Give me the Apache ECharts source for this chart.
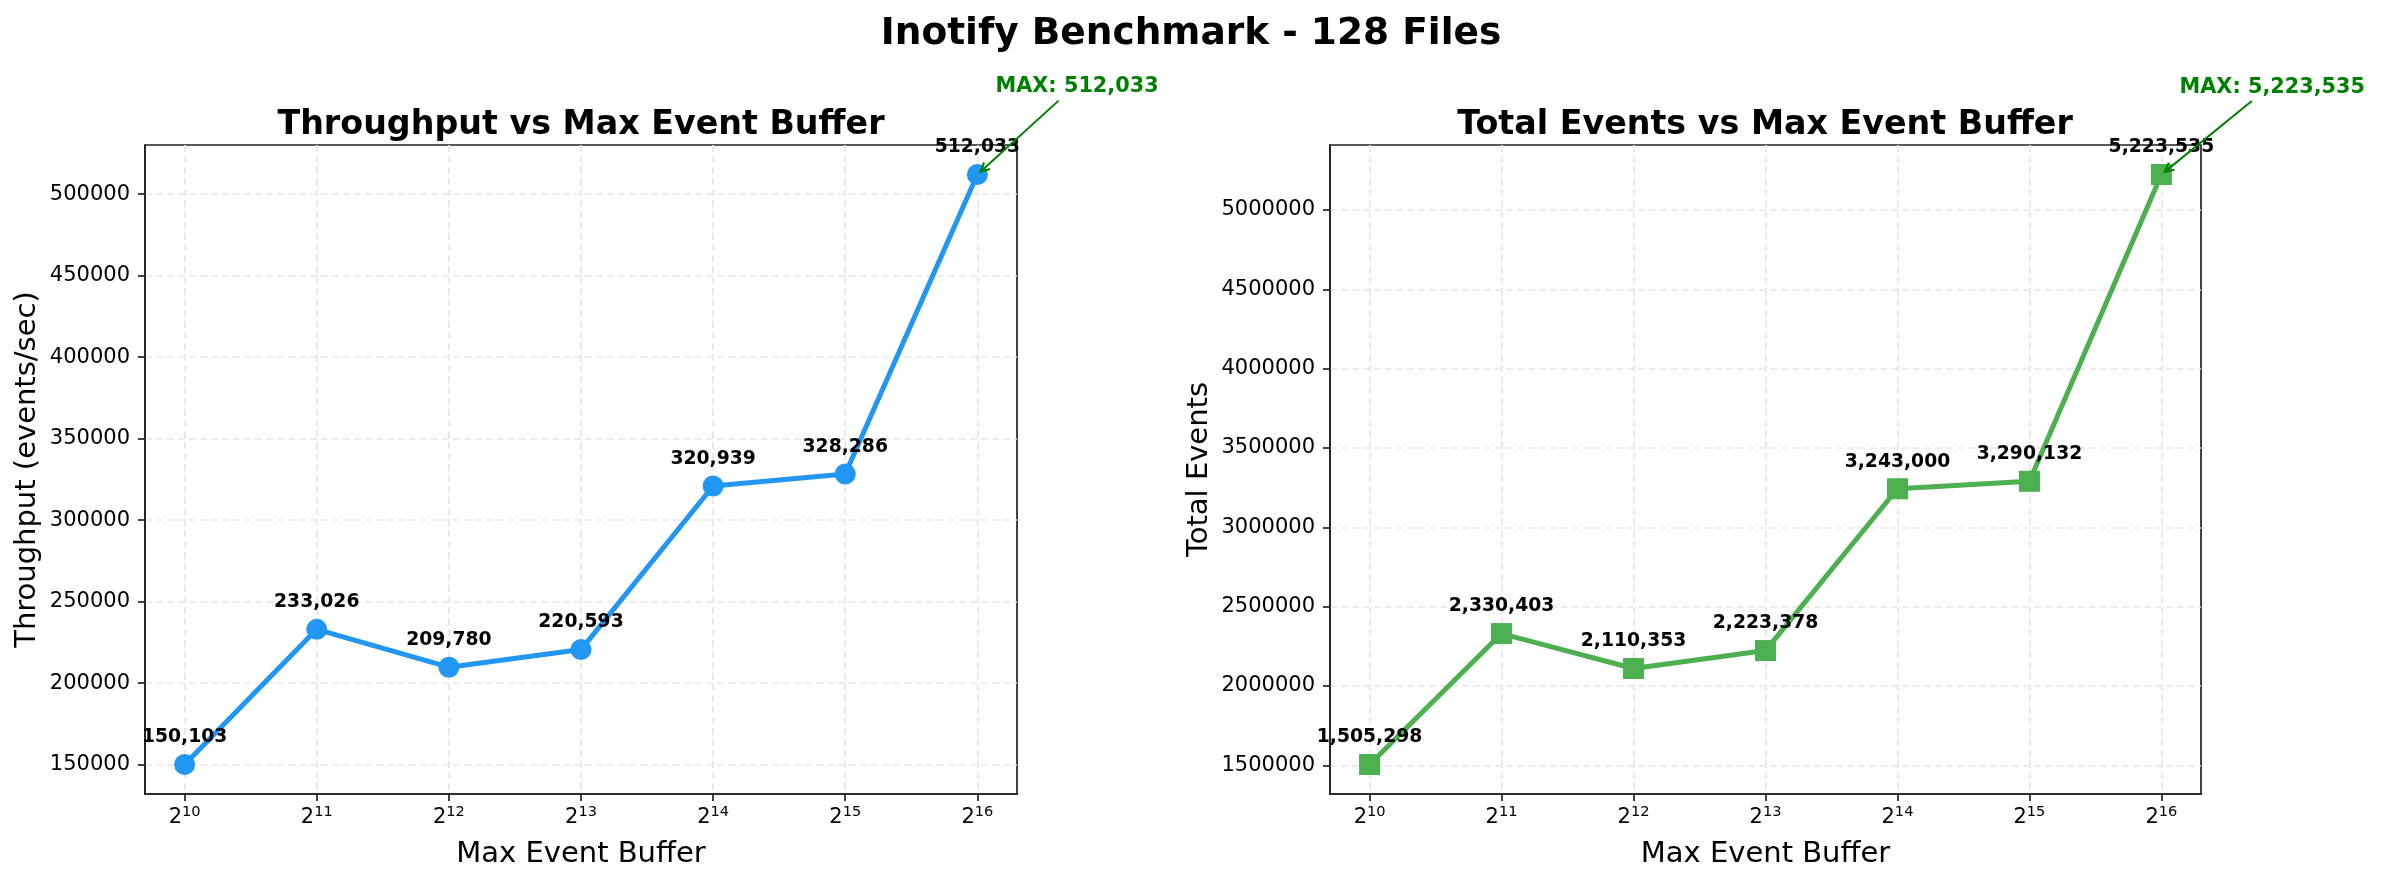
<!DOCTYPE html>
<html>
<head>
<meta charset="utf-8">
<script src="https://cdn.jsdelivr.net/npm/echarts@6/dist/echarts.min.js"></script>
<style>
html, body { margin: 0; padding: 0; background: #fff; }
#chart { width: 2383px; height: 884px; }
</style>
</head>
<body>
<div id="chart"></div>
<script>
// x = log2 of the max event buffer
const bufferExponents = [10, 11, 12, 13, 14, 15, 16]
const throughput = [150103, 233026, 209780, 220593, 320939, 328286, 512033]
const totalEvents = [1505298, 2330403, 2110353, 2223378, 3243000, 3290132, 5223535]
const throughputTicks = [150000, 200000, 250000, 300000, 350000, 400000, 450000, 500000]
const totalEventsTicks = [1500000, 2000000, 2500000, 3000000, 3500000, 4000000, 4500000, 5000000]

const FONT = 'DejaVu Sans'
const fmt = v => v.toLocaleString('en-US')

// matplotlib-like 5% margins
function padRange(vals) {
  const lo = Math.min(...vals), hi = Math.max(...vals), m = (hi - lo) * 0.05
  return [lo - m, hi + m]
}

const gridLine = { show: true, lineStyle: { color: '#e6e6e6', type: [7, 4], width: 1.7 } }
const tickStyle = { color: '#222', width: 1.7 }

function xAxisFor(gridIndex) {
  const [lo, hi] = padRange(bufferExponents)
  return {
    type: 'value', gridIndex, min: lo, max: hi,
    name: 'Max Event Buffer', nameLocation: 'middle', nameGap: 46,
    nameTextStyle: { fontFamily: FONT, fontSize: 29, color: '#000' },
    axisLine: { show: true, onZero: false, lineStyle: tickStyle },
    axisTick: { show: true, customValues: bufferExponents, length: 7, lineStyle: tickStyle },
    axisLabel: {
      customValues: bufferExponents, margin: 11,
      formatter: v => '{b|2}{s|' + v + '}',
      rich: {
        b: { fontFamily: FONT, fontSize: 21, color: '#000', lineHeight: 26 },
        s: { fontFamily: FONT, fontSize: 14.6, color: '#000', lineHeight: 18, verticalAlign: 'top' }
      }
    },
    splitLine: gridLine
  }
}

function yAxisFor(gridIndex, vals, ticks, name, nameGap) {
  const [lo, hi] = padRange(vals)
  return {
    type: 'value', gridIndex, min: lo, max: hi,
    name, nameLocation: 'middle', nameGap,
    nameTextStyle: { fontFamily: FONT, fontSize: 29, color: '#000' },
    axisLine: { show: true, onZero: false, lineStyle: tickStyle },
    axisTick: { show: true, customValues: ticks, length: 7, lineStyle: tickStyle },
    axisLabel: { customValues: ticks, margin: 15, fontFamily: FONT, fontSize: 21, color: '#000', formatter: v => String(v) },
    splitLine: gridLine
  }
}

function lineSeries(idx, values, color, symbol, size) {
  return {
    type: 'line', xAxisIndex: idx, yAxisIndex: idx,
    data: bufferExponents.map((e, i) => [e, values[i]]),
    symbol, symbolSize: size, z: 3,
    lineStyle: { color, width: 5 },
    itemStyle: { color, opacity: 1 },
    label: {
      show: true, position: 'top', distance: 7,
      formatter: p => fmt(p.value[1]),
      fontFamily: FONT, fontWeight: 'bold', fontSize: 18.75, color: '#000'
    }
  }
}

const chart = echarts.init(document.getElementById('chart'))
chart.setOption({
  animation: false,
  backgroundColor: '#fff',
  grid: [
    { left: 145, top: 145, width: 872, height: 649, show: true, borderColor: '#222', borderWidth: 1.7 },
    { left: 1330, top: 145, width: 871, height: 649, show: true, borderColor: '#222', borderWidth: 1.7 }
  ],
  xAxis: [xAxisFor(0), xAxisFor(1)],
  yAxis: [
    yAxisFor(0, throughput, throughputTicks, 'Throughput (events/sec)', 103),
    yAxisFor(1, totalEvents, totalEventsTicks, 'Total Events', 116)
  ],
  series: [
    lineSeries(0, throughput, '#2196F3', 'circle', 21),
    lineSeries(1, totalEvents, '#4CAF50', 'rect', 21)
  ]
})

const ctx = document.createElement('canvas').getContext('2d')

// "MAX" annotation: text at (x*1.1, y*1.1) in data space, arrow to the max point
function maxNote(gridIndex, values) {
  const i = values.indexOf(Math.max(...values))
  const pt = chart.convertToPixel({ gridIndex }, [bufferExponents[i], values[i]])
  const at = chart.convertToPixel({ gridIndex }, [Math.log2(Math.pow(2, bufferExponents[i]) * 1.1), values[i] * 1.1])
  const text = 'MAX: ' + fmt(values[i])
  const fs = 20.8
  const font = 'bold ' + fs + 'px "' + FONT + '"'
  ctx.font = font
  const w = ctx.measureText(text).width
  const cx = at[0] + w / 2, cy = at[1] - 0.346 * fs
  const dx = pt[0] - cx, dy = pt[1] - cy, len = Math.hypot(dx, dy)
  const ux = dx / len, uy = dy / len
  const hw = w / 2 + 2, hh = 0.582 * fs + 2
  const exit = Math.min(hw / Math.max(Math.abs(ux), 1e-9), hh / Math.max(Math.abs(uy), 1e-9))
  const sx = cx + ux * (exit + 4), sy = cy + uy * (exit + 4)
  const ex = pt[0] - ux * 4.2, ey = pt[1] - uy * 4.2
  const hl = 9, hwid = 4.5
  const bx = ex - ux * hl, by = ey - uy * hl
  return [
    { type: 'line', z: 10, shape: { x1: sx, y1: sy, x2: ex, y2: ey }, style: { stroke: '#008000', lineWidth: 2 } },
    { type: 'polyline', z: 10, shape: { points: [[bx - uy * hwid, by + ux * hwid], [ex, ey], [bx + uy * hwid, by - ux * hwid]] }, style: { stroke: '#008000', lineWidth: 2, fill: null } },
    { type: 'text', z: 10, x: at[0], y: at[1] - 4, style: { text, font, fill: '#008000', align: 'left', verticalAlign: 'middle' } }
  ]
}

function titleText(text, x, y, size) {
  return { type: 'text', x, y, style: { text, font: 'bold ' + size + 'px "' + FONT + '"', fill: '#000', align: 'center', verticalAlign: 'middle' } }
}

chart.setOption({
  graphic: [
    titleText('Inotify Benchmark - 128 Files', 1191, 34, 37.5),
    titleText('Throughput vs Max Event Buffer', 581, 125, 33.3),
    titleText('Total Events vs Max Event Buffer', 1765, 125, 33.3),
    ...maxNote(0, throughput),
    ...maxNote(1, totalEvents)
  ]
})
</script>
</body>
</html>
